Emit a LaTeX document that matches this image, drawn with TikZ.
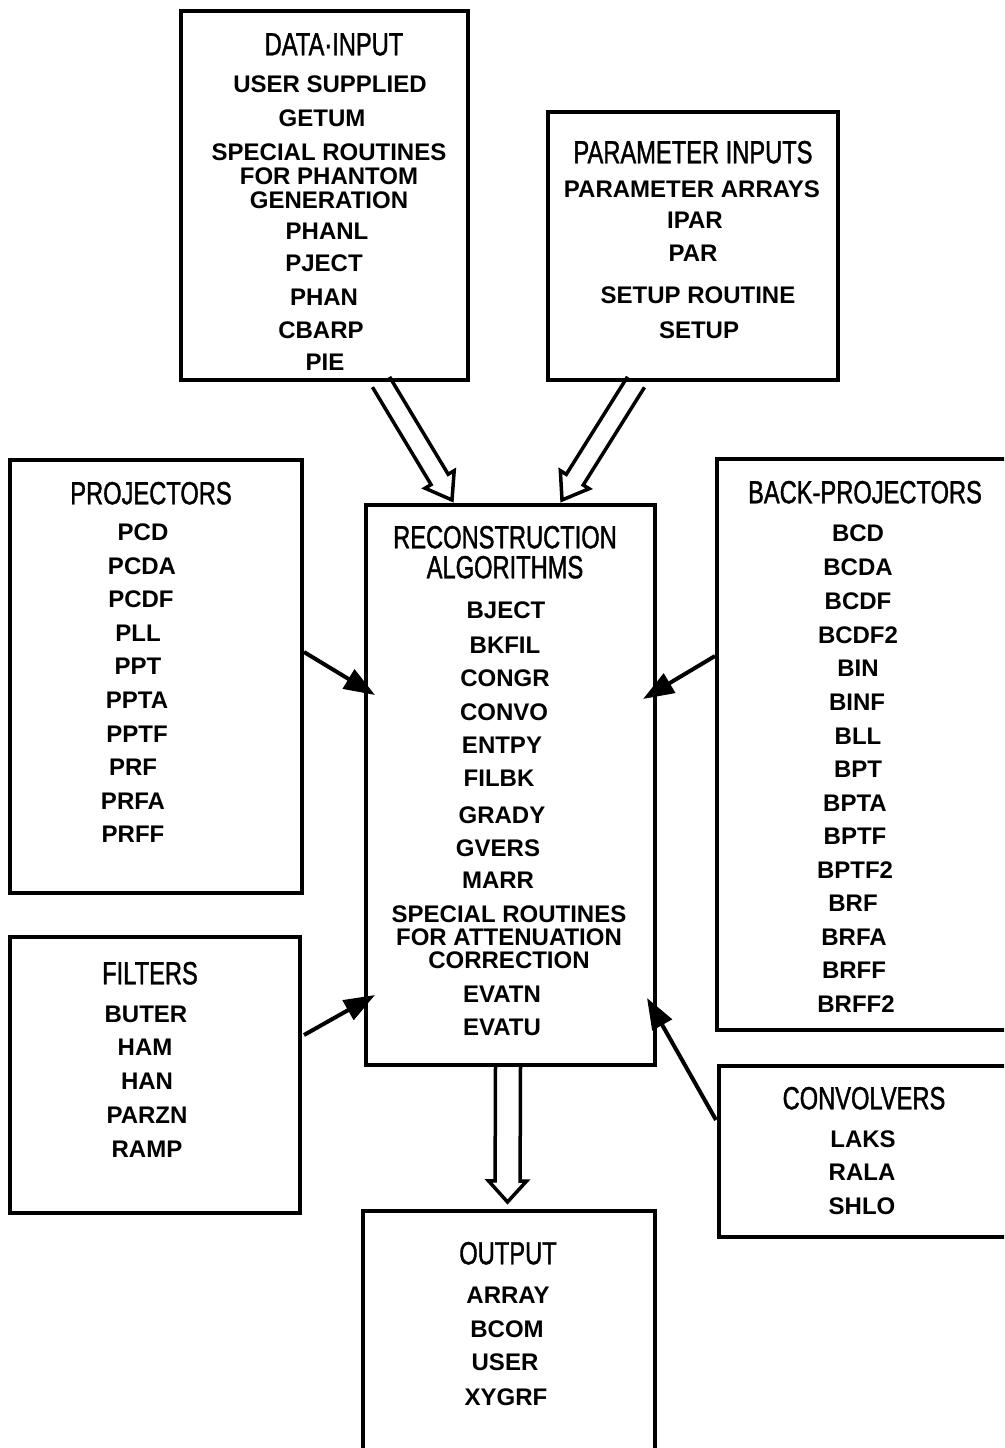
\documentclass[tikz,border=0pt]{standalone}
\usepackage{fontspec}
\setmainfont{Liberation Sans}
\newfontfamily\titlefont{Liberation Sans}[FakeStretch=0.74,FakeBold=1.2]
\usetikzlibrary{arrows.meta,calc}
\newcommand\hollowarrow[5]{%
  \coordinate (hc) at ($(#2)!#4!(#1)$);
  \draw[hollow] ($(#1)!#3!90:(#2)$) -- ($(hc)!#3!90:(#2)$) -- ($(hc)!#5!90:(#2)$) -- (#2)
    -- ($(hc)!#5!-90:(#2)$) -- ($(hc)!#3!-90:(#2)$) -- ($(#1)!#3!-90:(#2)$);
}
\tikzset{
  box/.style={draw, line width=4pt, inner sep=0pt},
  item/.style={font=\fontsize{24}{24}\selectfont\bfseries, inner sep=0pt, text height=17pt, text depth=0pt, align=center},
  ttl/.style={font=\fontsize{32}{32}\selectfont\titlefont, inner sep=0pt, text height=22.5pt, text depth=0pt},
  arr/.style={line width=4pt, -{Triangle[length=31pt,width=22pt]}},
  hollow/.style={line width=3.5pt, line join=miter, miter limit=20}
}
\begin{document}
\begin{tikzpicture}[x=1pt,y=-1pt]
\useasboundingbox (0,0) rectangle (1004,1448);
\fill[white] (0,0) rectangle (1004,1448);
\clip (0,0) rectangle (1004,1448);

% boxes
\node[box, minimum width=287pt, minimum height=369pt] (data) at (324.5,195.5) {};
\node[box, minimum width=290pt, minimum height=268pt] (param) at (693,246) {};
\node[box, minimum width=289pt, minimum height=560pt] (recon) at (510.5,785) {};
\node[box, minimum width=292pt, minimum height=433pt] (proj) at (156,676.5) {};
\node[box, minimum width=290pt, minimum height=276pt] (filt) at (155,1075) {};
\node[box, minimum width=303pt, minimum height=571pt] (back) at (868.5,744.5) {};
\node[box, minimum width=301pt, minimum height=171pt] (conv) at (869.5,1151.5) {};
\node[box, minimum width=292pt, minimum height=259pt] (outp) at (509,1340.5) {};

% data input
\node[ttl] (t-data) at (334,44) {DATA·INPUT};
\node[item] (d1) at (330,84) {USER SUPPLIED};
\node[item] (d2) at (322,118) {GETUM};
\node[item, font=\fontsize{24}{24}\selectfont\bfseries] (d3) at (329,200) {SPECIAL ROUTINES\\FOR PHANTOM\\GENERATION};
\node[item] (d4) at (327,231) {PHANL};
\node[item] (d5) at (324,263) {PJECT};
\node[item] (d6) at (324,297) {PHAN};
\node[item] (d7) at (321,330) {CBARP};
\node[item] (d8) at (325,362) {PIE};

% parameter inputs
\node[ttl] (t-param) at (693,152) {PARAMETER INPUTS};
\node[item] (p1) at (692,189) {PARAMETER ARRAYS};
\node[item] (p2) at (695,220) {IPAR};
\node[item] (p3) at (693,253) {PAR};
\node[item] (p4) at (698,295) {SETUP ROUTINE};
\node[item] (p5) at (699,330) {SETUP};

% projectors
\node[ttl] (t-proj) at (151,493) {PROJECTORS};
\node[item] at (143,532) {PCD};
\node[item] at (142,566) {PCDA};
\node[item] at (141,599) {PCDF};
\node[item] at (138,633) {PLL};
\node[item] at (138,666) {PPT};
\node[item] at (137,700) {PPTA};
\node[item] at (137,734) {PPTF};
\node[item] at (133,767) {PRF};
\node[item] at (133,801) {PRFA};
\node[item] at (133,834) {PRFF};

% reconstruction
\node[ttl, align=center, font=\fontsize{32}{30}\selectfont\titlefont] (t-recon) at (505,567) {RECONSTRUCTION\\ALGORITHMS};
\node[item] at (506,610) {BJECT};
\node[item] at (505,645) {BKFIL};
\node[item] at (505,678) {CONGR};
\node[item] at (504,712) {CONVO};
\node[item] at (502,745) {ENTPY};
\node[item] at (499,778) {FILBK};
\node[item] at (502,815) {GRADY};
\node[item] at (498,848) {GVERS};
\node[item] at (498,880) {MARR};
\node[item, font=\fontsize{24}{23}\selectfont\bfseries] at (509,960) {SPECIAL ROUTINES\\FOR ATTENUATION\\CORRECTION};
\node[item] at (502,994) {EVATN};
\node[item] at (502,1027) {EVATU};

% back-projectors
\node[ttl] (t-back) at (865,492) {BACK-PROJECTORS};
\node[item] at (858,533) {BCD};
\node[item] at (858,567) {BCDA};
\node[item] at (858,601) {BCDF};
\node[item] at (858,635) {BCDF2};
\node[item] at (858,668) {BIN};
\node[item] at (857,702) {BINF};
\node[item] at (858,736) {BLL};
\node[item] at (858,769) {BPT};
\node[item] at (855,803) {BPTA};
\node[item] at (855,836) {BPTF};
\node[item] at (855,870) {BPTF2};
\node[item] at (853,903) {BRF};
\node[item] at (854,937) {BRFA};
\node[item] at (854,970) {BRFF};
\node[item] at (856,1004) {BRFF2};

% filters
\node[ttl] (t-filt) at (150,973) {FILTERS};
\node[item] at (146,1014) {BUTER};
\node[item] at (145,1047) {HAM};
\node[item] at (147,1081) {HAN};
\node[item] at (147,1115) {PARZN};
\node[item] at (147,1149) {RAMP};

% convolvers
\node[ttl] (t-conv) at (864,1098) {CONVOLVERS};
\node[item] at (863,1139) {LAKS};
\node[item] at (862,1172) {RALA};
\node[item] at (862,1206) {SHLO};

% output
\node[ttl] (t-out) at (508,1253) {OUTPUT};
\node[item] at (508,1295) {ARRAY};
\node[item] at (507,1329) {BCOM};
\node[item] at (505,1362) {USER};
\node[item] at (506,1397) {XYGRF};

% solid arrows
\coordinate (tp) at (375,695);
\coordinate (tf) at (375,995);
\coordinate (tb) at (643,699);
\coordinate (tc) at (647,998);
\draw[arr] ($(proj.east)+(0,-24.5)$) -- (tp);
\draw[arr] ($(filt.east)+(2,-40)$) -- (tf);
\draw[arr] ($(back.west)+(0,-88.5)$) -- (tb);
\draw[arr] ($(conv.west)+(-1,-31.5)$) -- (tc);

% hollow arrows
\coordinate (hd1) at ($(data.south)+(56.5,0)$);
\coordinate (hd2) at (452,500);
\hollowarrow{hd1}{hd2}{10pt}{24pt}{17pt}
\coordinate (hp1) at ($(param.south)+(-57,0)$);
\coordinate (hp2) at (562,500);
\hollowarrow{hp1}{hp2}{10pt}{24pt}{17pt}
\coordinate (ho1) at ($(recon.south)+(-2.5,0)$);
\coordinate (ho2) at ($(outp.north)+(-1.5,-7)$);
\hollowarrow{ho1}{ho2}{12.5pt}{21pt}{19pt}
\end{tikzpicture}
\end{document}
